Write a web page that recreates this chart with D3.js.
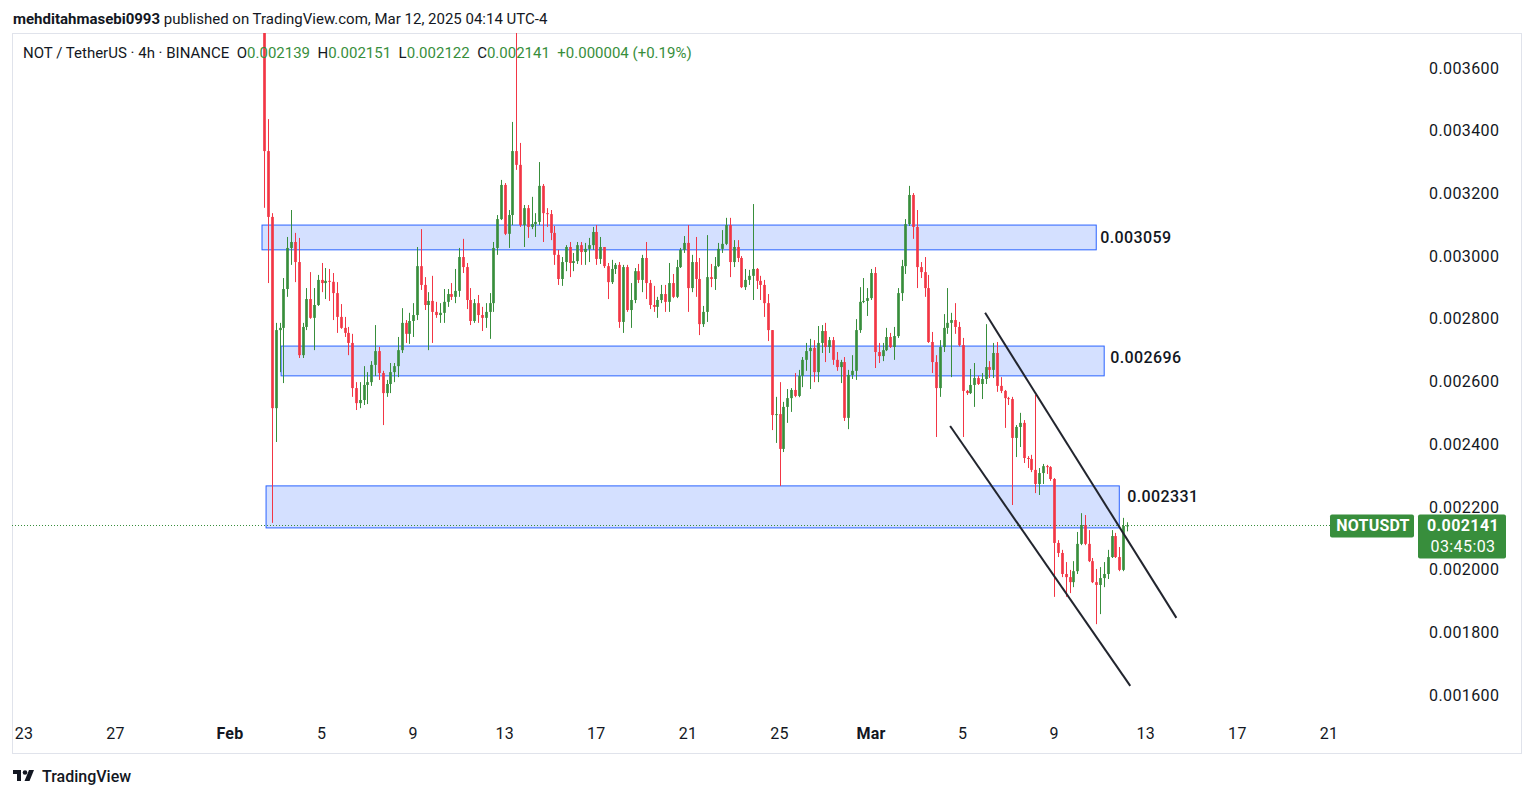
<!DOCTYPE html>
<html><head><meta charset="utf-8">
<script src="https://cdn.jsdelivr.net/npm/d3@7"></script>
<style>
html,body{margin:0;padding:0;background:#fff;overflow:hidden;}
svg{display:block;font-family:Roboto,"Noto Sans",sans-serif;}
</style></head><body>
<svg id="chart" width="1534" height="798"></svg>
<script>
// ---------- DATA ----------
const symbolTitle = "NOT / TetherUS · 4h · BINANCE";
const firstBar = "2025-02-02T12:00";
const barHours = 4;
const opens = [0.003740,0.003335,0.003125,0.002515,0.002764,0.002771,0.002895,0.003026,0.003045,0.002981,
0.002684,0.002774,0.002863,0.002803,0.002844,0.002924,0.002914,0.002921,0.002918,0.002882,
0.002806,0.002771,0.002755,0.002723,0.002579,0.002531,0.002541,0.002589,0.002598,0.002653,
0.002697,0.002627,0.002563,0.002592,0.002630,0.002649,0.002700,0.002787,0.002752,0.002793,
0.002812,0.002968,0.002908,0.002844,0.002857,0.002822,0.002812,0.002819,0.002854,0.002879,
0.002870,0.002889,0.002997,0.002965,0.002860,0.002793,0.002850,0.002812,0.002803,0.002822,
0.002850,0.003026,0.003118,0.003227,0.003071,0.003131,0.003335,0.003291,0.003099,0.003153,
0.003093,0.003102,0.003109,0.003224,0.003137,0.003134,0.003074,0.003004,0.002927,0.002981,
0.003029,0.002978,0.002984,0.003035,0.003013,0.003023,0.003035,0.003077,0.002991,0.003029,
0.002968,0.002917,0.002959,0.002972,0.002790,0.002965,0.002828,0.002860,0.002952,0.002924,
0.002994,0.002914,0.002844,0.002838,0.002860,0.002879,0.002854,0.002914,0.002870,0.002965,
0.003020,0.003042,0.002898,0.002981,0.002927,0.002783,0.002822,0.002933,0.002927,0.002968,
0.003023,0.003039,0.003099,0.002981,0.003029,0.002994,0.002901,0.002924,0.002937,0.002959,
0.002921,0.002908,0.002850,0.002764,0.002493,0.002496,0.002385,0.002519,0.002547,0.002573,
0.002554,0.002618,0.002669,0.002697,0.002707,0.002630,0.002723,0.002761,0.002710,0.002732,
0.002669,0.002646,0.002662,0.002484,0.002621,0.002634,0.002764,0.002854,0.002857,0.002866,
0.002946,0.002694,0.002681,0.002700,0.002742,0.002710,0.002745,0.002882,0.002968,0.003102,
0.003195,0.003093,0.002965,0.002949,0.002898,0.002726,0.002662,0.002579,0.002710,0.002771,
0.002787,0.002796,0.002774,0.002716,0.002570,0.002563,0.002589,0.002611,0.002592,0.002608,
0.002646,0.002637,0.002691,0.002586,0.002570,0.002547,0.002544,0.002420,0.002455,0.002468,
0.002356,0.002353,0.002318,0.002273,0.002308,0.002330,0.002327,0.002289,0.002085,0.002053,
0.001986,0.001976,0.001960,0.001995,0.002082,0.002142,0.002082,0.002027,0.001960,0.001951,
0.001973,0.001986,0.002040,0.002107,0.002040,0.001999,0.002139];
const highs = [0.003800,0.003437,0.003137,0.002787,0.002787,0.002930,0.003061,0.003147,0.003074,0.003058,
0.002787,0.002898,0.002949,0.002898,0.002940,0.002978,0.002962,0.002959,0.002946,0.002917,
0.002847,0.002806,0.002774,0.002752,0.002598,0.002598,0.002649,0.002630,0.002665,0.002780,
0.002710,0.002634,0.002605,0.002659,0.002659,0.002742,0.002834,0.002796,0.002819,0.002850,
0.003029,0.003086,0.002933,0.002885,0.002937,0.002854,0.002850,0.002895,0.002895,0.002914,
0.002959,0.003026,0.003055,0.002978,0.002898,0.002863,0.002876,0.002838,0.002850,0.002882,
0.003045,0.003131,0.003243,0.003233,0.003147,0.003428,0.003760,0.003361,0.003163,0.003163,
0.003189,0.003137,0.003300,0.003230,0.003153,0.003147,0.003096,0.003020,0.002997,0.003035,
0.003045,0.003010,0.003045,0.003045,0.003042,0.003058,0.003093,0.003099,0.003061,0.003029,
0.002978,0.002988,0.002978,0.002981,0.002972,0.002972,0.002914,0.002962,0.002975,0.003004,
0.003045,0.002924,0.002905,0.002870,0.002908,0.002908,0.002978,0.002943,0.002988,0.003026,
0.003064,0.003099,0.003004,0.003061,0.002994,0.002841,0.003067,0.002975,0.002997,0.003042,
0.003083,0.003122,0.003122,0.003051,0.003051,0.003000,0.002959,0.002956,0.003166,0.002962,
0.002937,0.002924,0.002879,0.002764,0.002551,0.002598,0.002535,0.002576,0.002579,0.002627,
0.002637,0.002678,0.002723,0.002736,0.002732,0.002777,0.002780,0.002787,0.002742,0.002742,
0.002694,0.002669,0.002678,0.002637,0.002684,0.002799,0.002901,0.002930,0.002898,0.002959,
0.002965,0.002723,0.002723,0.002771,0.002755,0.002774,0.002898,0.002988,0.003118,0.003224,
0.003201,0.003147,0.002981,0.002997,0.002940,0.002758,0.002684,0.002732,0.002815,0.002898,
0.002819,0.002850,0.002790,0.002739,0.002573,0.002640,0.002659,0.002618,0.002627,0.002783,
0.002665,0.002723,0.002726,0.002614,0.002573,0.002551,0.002551,0.002461,0.002500,0.002477,
0.002362,0.002366,0.002557,0.002324,0.002337,0.002334,0.002330,0.002292,0.002094,0.002063,
0.002024,0.001999,0.002027,0.002120,0.002180,0.002174,0.002126,0.002037,0.002002,0.002008,
0.002024,0.002063,0.002126,0.002117,0.002072,0.002165,0.002151];
const lows = [0.003154,0.002914,0.002149,0.002407,0.002630,0.002595,0.002870,0.002972,0.002917,0.002675,
0.002675,0.002764,0.002800,0.002700,0.002841,0.002885,0.002863,0.002857,0.002796,0.002755,
0.002768,0.002742,0.002684,0.002551,0.002509,0.002515,0.002525,0.002528,0.002586,0.002618,
0.002605,0.002461,0.002551,0.002563,0.002598,0.002614,0.002691,0.002723,0.002720,0.002742,
0.002796,0.002892,0.002828,0.002700,0.002723,0.002803,0.002787,0.002787,0.002838,0.002860,
0.002850,0.002870,0.002946,0.002831,0.002780,0.002787,0.002787,0.002761,0.002771,0.002736,
0.002822,0.003004,0.003115,0.003067,0.003026,0.003099,0.003275,0.003093,0.003029,0.003058,
0.003086,0.003061,0.003099,0.003045,0.003093,0.003051,0.002972,0.002908,0.002905,0.002952,
0.002933,0.002952,0.002975,0.002972,0.002972,0.002981,0.003020,0.002972,0.002975,0.002962,
0.002863,0.002911,0.002943,0.002771,0.002755,0.002822,0.002771,0.002850,0.002914,0.002885,
0.002863,0.002831,0.002822,0.002803,0.002850,0.002822,0.002822,0.002866,0.002866,0.002962,
0.003010,0.002822,0.002885,0.002870,0.002748,0.002774,0.002790,0.002901,0.002892,0.002965,
0.003010,0.003035,0.002933,0.002965,0.002981,0.002898,0.002892,0.002908,0.002860,0.002895,
0.002860,0.002806,0.002729,0.002445,0.002404,0.002267,0.002375,0.002468,0.002503,0.002550,
0.002550,0.002582,0.002634,0.002576,0.002598,0.002598,0.002691,0.002662,0.002691,0.002653,
0.002634,0.002595,0.002474,0.002448,0.002608,0.002605,0.002755,0.002850,0.002809,0.002860,
0.002643,0.002659,0.002665,0.002697,0.002707,0.002669,0.002739,0.002857,0.002943,0.003096,
0.003055,0.002898,0.002930,0.002870,0.002723,0.002627,0.002423,0.002551,0.002694,0.002752,
0.002614,0.002752,0.002712,0.002423,0.002557,0.002560,0.002519,0.002589,0.002544,0.002592,
0.002611,0.002611,0.002567,0.002563,0.002452,0.002525,0.002206,0.002359,0.002391,0.002340,
0.002324,0.002311,0.002244,0.002238,0.002273,0.002305,0.002283,0.001913,0.002040,0.001976,
0.001913,0.001925,0.001944,0.001986,0.002078,0.002078,0.002024,0.001957,0.001826,0.001858,
0.001944,0.001970,0.002037,0.002037,0.001995,0.001995,0.002122];
const closes = [0.003335,0.003125,0.002515,0.002764,0.002771,0.002895,0.003026,0.003045,0.002981,0.002684,
0.002774,0.002863,0.002803,0.002844,0.002924,0.002914,0.002921,0.002918,0.002882,0.002806,
0.002771,0.002755,0.002723,0.002579,0.002531,0.002541,0.002589,0.002598,0.002653,0.002697,
0.002627,0.002563,0.002592,0.002630,0.002649,0.002700,0.002787,0.002752,0.002793,0.002812,
0.002968,0.002908,0.002844,0.002857,0.002822,0.002812,0.002819,0.002854,0.002879,0.002870,
0.002889,0.002997,0.002965,0.002860,0.002793,0.002850,0.002812,0.002803,0.002822,0.002850,
0.003026,0.003118,0.003227,0.003071,0.003131,0.003335,0.003291,0.003099,0.003153,0.003093,
0.003102,0.003109,0.003224,0.003137,0.003134,0.003074,0.003004,0.002927,0.002981,0.003029,
0.002978,0.002984,0.003035,0.003013,0.003023,0.003035,0.003077,0.002991,0.003029,0.002968,
0.002917,0.002959,0.002972,0.002790,0.002965,0.002828,0.002860,0.002952,0.002924,0.002994,
0.002914,0.002844,0.002838,0.002860,0.002879,0.002854,0.002914,0.002870,0.002965,0.003020,
0.003042,0.002898,0.002981,0.002927,0.002783,0.002822,0.002933,0.002927,0.002968,0.003023,
0.003039,0.003099,0.002981,0.003029,0.002994,0.002901,0.002924,0.002937,0.002959,0.002921,
0.002908,0.002850,0.002764,0.002493,0.002496,0.002385,0.002519,0.002547,0.002573,0.002554,
0.002618,0.002669,0.002697,0.002707,0.002630,0.002723,0.002761,0.002710,0.002732,0.002669,
0.002646,0.002662,0.002484,0.002621,0.002634,0.002764,0.002854,0.002857,0.002866,0.002946,
0.002694,0.002681,0.002700,0.002742,0.002710,0.002745,0.002882,0.002968,0.003102,0.003195,
0.003093,0.002965,0.002949,0.002898,0.002726,0.002662,0.002579,0.002710,0.002771,0.002787,
0.002796,0.002774,0.002716,0.002570,0.002563,0.002589,0.002611,0.002592,0.002608,0.002646,
0.002637,0.002691,0.002586,0.002570,0.002547,0.002544,0.002420,0.002455,0.002468,0.002356,
0.002353,0.002318,0.002273,0.002308,0.002330,0.002327,0.002289,0.002085,0.002053,0.001986,
0.001976,0.001960,0.001995,0.002082,0.002142,0.002082,0.002027,0.001960,0.001951,0.001973,
0.001986,0.002040,0.002107,0.002040,0.001999,0.002139,0.002141];

const priceTicks = [0.0016,0.0018,0.0020,0.0022,0.0024,0.0026,0.0028,0.0030,0.0032,0.0034,0.0036];
const dateTicks = ["2025-01-23","2025-01-27","2025-02-01","2025-02-05","2025-02-09","2025-02-13","2025-02-17","2025-02-21","2025-02-25","2025-03-01","2025-03-05","2025-03-09","2025-03-13","2025-03-17","2025-03-21"];
const dateTickLabels = ["23","27","Feb","5","9","13","17","21","25","Mar","5","9","13","17","21"];
const dateTickBold = [false,false,true,false,false,false,false,false,false,true,false,false,false,false,false];

// rectangle zones
const zoneStart = ["2025-02-02T09:30","2025-02-03T05:30","2025-02-02T13:45"];
const zoneEnd   = ["2025-03-10T20:00","2025-03-11T04:20","2025-03-11T20:10"];
const zoneTop   = [0.003099,0.002713,0.002267];
const zoneBottom= [0.003020,0.002618,0.002133];
const zoneLabel = ["0.003059","0.002696","0.002331"];
const zoneLabelPrice = [0.003059,0.002678,0.002232];

// channel trend lines
const trendStart = ["2025-03-05T23:30","2025-03-04T10:50"];
const trendStartPrice = [0.002819,0.002458];
const trendEnd = ["2025-03-14T08:00","2025-03-12T07:40"];
const trendEndPrice = [0.001846,0.001629];

const lastPrice = 0.002141;
const lastPriceText = "0.002141";
const countdownText = "03:45:03";
const tickerText = "NOTUSDT";
const ohlcLabels = ["O","H","L","C"];
const ohlcValues = ["0.002139","0.002151","0.002122","0.002141"];
const changeText = "+0.000004 (+0.19%)";

// ---------- DRAW ----------
const W = 1534, H = 798;
const UP = "#388e3c", DOWN = "#f23645", TXT = "#131722";
const parse = d3.utcParse("%Y-%m-%dT%H:%M");
const parseDay = d3.utcParse("%Y-%m-%d");
const svg = d3.select("#chart");
const plot = {left: 12, right: 1418, top: 33, bottom: 716};

const x = d3.scaleUtc()
  .domain([parseDay(dateTicks[0]), parseDay(dateTicks[dateTicks.length-1])])
  .range([24, 1329]);
const y = d3.scaleLinear().domain([0.0016, 0.0036]).range([695, 68]);

const t0 = parse(firstBar);
const bars = opens.map((o, i) => ({
  t: d3.utcHour.offset(t0, i * barHours), o, h: highs[i], l: lows[i], c: closes[i]
}));
const barStep = x(d3.utcHour.offset(t0, barHours)) - x(t0);
const bodyW = Math.max(1, barStep * 0.7);

svg.append("rect").attr("width", W).attr("height", H).attr("fill", "#fff");

// pane border
svg.append("rect").attr("x", 12.5).attr("y", 33.5).attr("width", 1509).attr("height", 720)
  .attr("fill", "none").attr("stroke", "#e0e3eb");

const defs = svg.append("defs");
defs.append("clipPath").attr("id", "plotClip").append("rect")
  .attr("x", plot.left).attr("y", plot.top).attr("width", plot.right - plot.left).attr("height", plot.bottom - plot.top);

const g = svg.append("g").attr("clip-path", "url(#plotClip)");

// zones
g.selectAll("rect.zone").data(zoneStart).join("rect").attr("class", "zone")
  .attr("x", (d, i) => x(parse(d)))
  .attr("y", (d, i) => y(zoneTop[i]))
  .attr("width", (d, i) => x(parse(zoneEnd[i])) - x(parse(d)))
  .attr("height", (d, i) => y(zoneBottom[i]) - y(zoneTop[i]))
  .attr("fill", "rgba(41,98,255,0.2)")
  .attr("stroke", "#2962ff").attr("stroke-width", 1);

// current price dotted line
g.append("line")
  .attr("x1", plot.left).attr("x2", 1330)
  .attr("y1", Math.round(y(lastPrice)) + 0.5).attr("y2", Math.round(y(lastPrice)) + 0.5)
  .attr("stroke", UP).attr("stroke-width", 1).attr("stroke-dasharray", "1,2");

// candles
const cg = g.append("g");
cg.selectAll("line.wick").data(bars).join("line").attr("class", "wick")
  .attr("x1", d => Math.round(x(d.t)) + 0.5).attr("x2", d => Math.round(x(d.t)) + 0.5)
  .attr("y1", d => y(d.h)).attr("y2", d => y(d.l))
  .attr("stroke", d => d.c >= d.o ? UP : DOWN).attr("stroke-width", 1);
cg.selectAll("rect.body").data(bars).join("rect").attr("class", "body")
  .attr("x", d => Math.round(x(d.t)) + 0.5 - bodyW / 2)
  .attr("y", d => y(Math.max(d.o, d.c)))
  .attr("width", bodyW)
  .attr("height", d => Math.max(1, Math.abs(y(d.o) - y(d.c))))
  .attr("fill", d => d.c >= d.o ? UP : DOWN);

// trend lines
g.selectAll("line.trend").data(trendStart).join("line").attr("class", "trend")
  .attr("x1", d => x(parse(d))).attr("y1", (d, i) => y(trendStartPrice[i]))
  .attr("x2", (d, i) => x(parse(trendEnd[i]))).attr("y2", (d, i) => y(trendEndPrice[i]))
  .attr("stroke", "#22252e").attr("stroke-width", 2);

// zone labels
svg.selectAll("text.zl").data(zoneLabel).join("text").attr("class", "zl")
  .attr("x", (d, i) => x(parse(zoneEnd[i])) + 4 + i * 2)
  .attr("y", (d, i) => y(zoneLabelPrice[i]))
  .attr("dy", "0.35em")
  .attr("font-size", 16).attr("letter-spacing", 0.4).attr("font-weight", 500).attr("fill", TXT)
  .text(d => d);

// price axis
svg.selectAll("text.pt").data(priceTicks).join("text").attr("class", "pt")
  .attr("x", 1429).attr("y", d => y(d)).attr("dy", "0.35em")
  .attr("font-size", 16).attr("letter-spacing", 0.4).attr("fill", TXT)
  .text(d => d3.format(".6f")(d));

// time axis
svg.selectAll("text.tt").data(dateTicks).join("text").attr("class", "tt")
  .attr("x", d => x(parseDay(d))).attr("y", 733).attr("dy", "0.35em")
  .attr("text-anchor", "middle").attr("font-size", 16).attr("letter-spacing", 0.3)
  .attr("font-weight", (d, i) => dateTickBold[i] ? 700 : 400)
  .attr("fill", TXT)
  .text((d, i) => dateTickLabels[i]);

// ticker + price label
const py = y(lastPrice);
svg.append("rect").attr("x", 1330).attr("y", py - 11).attr("width", 84).attr("height", 23)
  .attr("rx", 2).attr("fill", UP);
svg.append("text").attr("x", 1373).attr("y", py).attr("dy", "0.35em").attr("text-anchor", "middle")
  .attr("font-size", 16).attr("letter-spacing", 0.2).attr("font-weight", 700).attr("fill", "#fff").text(tickerText);
svg.append("rect").attr("x", 1418).attr("y", py - 11).attr("width", 88).attr("height", 44)
  .attr("rx", 2).attr("fill", UP);
svg.append("text").attr("x", 1463).attr("y", py).attr("dy", "0.35em").attr("text-anchor", "middle")
  .attr("font-size", 16).attr("letter-spacing", 0.4).attr("font-weight", 700).attr("fill", "#fff").text(lastPriceText);
svg.append("text").attr("x", 1463).attr("y", py + 21).attr("dy", "0.35em").attr("text-anchor", "middle")
  .attr("font-size", 16).attr("letter-spacing", 0.4).attr("fill", "#fff").text(countdownText);

// header legend
const hdr = svg.append("text").attr("x", 23).attr("y", 53).attr("dy", "0.35em")
  .attr("font-size", 15).attr("fill", TXT).attr("xml:space", "preserve");
hdr.append("tspan").text(symbolTitle + "  ");
ohlcLabels.forEach((lab, i) => {
  hdr.append("tspan").attr("fill", TXT).text(lab);
  hdr.append("tspan").attr("fill", UP).text(ohlcValues[i] + "  ");
});
hdr.append("tspan").attr("fill", UP).text(changeText);

// top attribution
const attrib = svg.append("text").attr("x", 13).attr("y", 19).attr("dy", "0.35em")
  .attr("font-size", 15).attr("fill", TXT);
attrib.append("tspan").attr("font-weight", 700).text("mehditahmasebi0993");
attrib.append("tspan").text(" published on TradingView.com, Mar 12, 2025 04:14 UTC-4");

// bottom logo
const logo = svg.append("g").attr("transform", "translate(13,770)").attr("fill", TXT);
logo.append("path").attr("d", "M0 0H8V11H4V4H0Z");
logo.append("circle").attr("cx", 12).attr("cy", 2.5).attr("r", 2.3);
logo.append("path").attr("d", "M16 0H21L16.5 11H11.5Z");
svg.append("text").attr("x", 42).attr("y", 776).attr("dy", "0.35em")
  .attr("font-size", 16).attr("font-weight", 500).attr("fill", TXT).text("TradingView");
</script>
</body></html>
